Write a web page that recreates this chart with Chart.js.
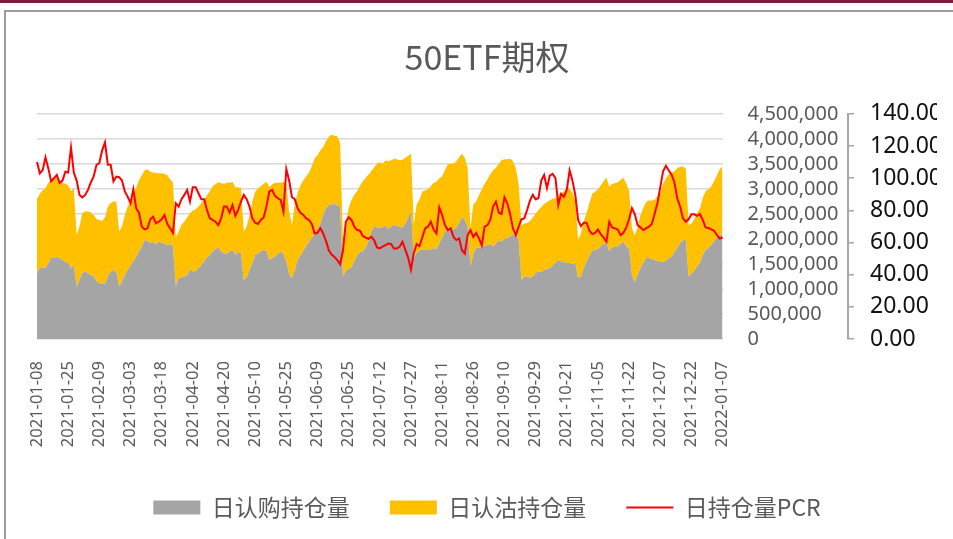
<!DOCTYPE html>
<html>
<head>
<meta charset="utf-8">
<script src="https://cdn.jsdelivr.net/npm/chart.js@4.4.1/dist/chart.umd.min.js"></script>
<style>
  html, body { margin: 0; padding: 0; background: #fff; }
  canvas { display: block; }
</style>
</head>
<body>
<canvas id="pcrChart" width="953" height="539"></canvas>
<script>
// trading days 2021-01-08 .. 2022-01-07 (weekends and exchange holidays skipped)
const firstDay = '2021-01-08';
const lastDay = '2022-01-07';
const holidays = [
    '2021-02-11', '2021-02-12', '2021-02-15', '2021-02-16', '2021-02-17',
    '2021-04-05', '2021-05-03', '2021-05-04', '2021-05-05', '2021-06-14',
    '2021-09-20', '2021-09-21', '2021-10-01', '2021-10-04', '2021-10-05',
    '2021-10-06', '2021-10-07', '2022-01-03'
];

const callOI = [
    1320000, 1420000, 1430000, 1420000, 1520000, 1620000, 1630000, 1640000, 1620000, 1580000,
    1540000, 1520000, 1420000, 1480000, 1050000, 1180000, 1320000, 1350000, 1320000, 1280000,
    1250000, 1160000, 1120000, 1100000, 1100000, 1250000, 1350000, 1380000, 1340000, 1050000,
    1150000, 1280000, 1380000, 1470000, 1550000, 1650000, 1750000, 1850000, 1980000, 1960000,
    1920000, 1940000, 1900000, 1950000, 1920000, 1910000, 1870000, 1900000, 1850000, 1050000,
    1220000, 1230000, 1250000, 1280000, 1400000, 1350000, 1360000, 1420000, 1480000, 1550000,
    1630000, 1680000, 1750000, 1800000, 1830000, 1750000, 1710000, 1710000, 1750000, 1780000,
    1680000, 1740000, 1710000, 1180000, 1230000, 1380000, 1520000, 1680000, 1710000, 1750000,
    1780000, 1760000, 1580000, 1620000, 1650000, 1700000, 1750000, 1700000, 1550000, 1300000,
    1220000, 1380000, 1580000, 1670000, 1760000, 1860000, 1940000, 2020000, 2100000, 2200000,
    2300000, 2480000, 2620000, 2680000, 2690000, 2700000, 2670000, 2650000, 1250000, 1360000,
    1400000, 1430000, 1550000, 1670000, 1740000, 1750000, 1830000, 1960000, 2140000, 2250000,
    2230000, 2220000, 2240000, 2270000, 2200000, 2250000, 2280000, 2270000, 2240000, 2230000,
    2300000, 2430000, 2550000, 1630000, 1720000, 1770000, 1790000, 1790000, 1790000, 1790000,
    1820000, 1790000, 1920000, 2020000, 2150000, 2180000, 2160000, 2200000, 2220000, 2320000,
    2450000, 2370000, 2250000, 1450000, 1700000, 1820000, 1830000, 1840000, 1870000, 1880000,
    1900000, 1850000, 1910000, 1970000, 1950000, 2000000, 2020000, 2050000, 2100000, 2060000,
    2000000, 1180000, 1250000, 1250000, 1220000, 1250000, 1320000, 1350000, 1340000, 1380000,
    1400000, 1420000, 1470000, 1520000, 1570000, 1550000, 1540000, 1520000, 1520000, 1500000,
    1520000, 1220000, 1250000, 1430000, 1550000, 1670000, 1770000, 1780000, 1800000, 1860000,
    1900000, 1920000, 1760000, 1830000, 1850000, 1850000, 1900000, 1950000, 1850000, 1800000,
    1280000, 1140000, 1280000, 1420000, 1520000, 1620000, 1620000, 1600000, 1580000, 1560000,
    1550000, 1550000, 1560000, 1620000, 1650000, 1740000, 1820000, 1920000, 1970000, 1990000,
    1250000, 1300000, 1370000, 1450000, 1520000, 1680000, 1780000, 1820000, 1880000, 1950000,
    2030000, 2080000, 2100000
];

const putOI = [
    1490000, 1480000, 1540000, 1590000, 1600000, 1570000, 1600000, 1610000, 1520000, 1540000,
    1560000, 1550000, 1530000, 1530000, 1030000, 1070000, 1200000, 1200000, 1230000, 1250000,
    1230000, 1240000, 1260000, 1260000, 1330000, 1400000, 1370000, 1370000, 1410000, 1100000,
    1100000, 1200000, 1270000, 1280000, 1340000, 1370000, 1420000, 1420000, 1390000, 1430000,
    1420000, 1380000, 1420000, 1360000, 1390000, 1390000, 1400000, 1290000, 1270000, 980000,
    930000, 1050000, 1100000, 1150000, 1120000, 1220000, 1230000, 1230000, 1240000, 1240000,
    1240000, 1270000, 1300000, 1290000, 1300000, 1360000, 1390000, 1410000, 1370000, 1360000,
    1350000, 1290000, 1300000, 970000, 1020000, 1090000, 1230000, 1260000, 1300000, 1300000,
    1320000, 1380000, 1450000, 1470000, 1470000, 1420000, 1370000, 1440000, 1540000, 1250000,
    1060000, 1310000, 1340000, 1400000, 1410000, 1390000, 1380000, 1430000, 1510000, 1470000,
    1470000, 1350000, 1330000, 1360000, 1390000, 1360000, 1380000, 1270000, 750000, 940000,
    1220000, 1350000, 1330000, 1280000, 1320000, 1400000, 1390000, 1320000, 1210000, 1180000,
    1270000, 1310000, 1260000, 1300000, 1350000, 1320000, 1320000, 1320000, 1330000, 1350000,
    1320000, 1230000, 1150000, 650000, 970000, 1020000, 1150000, 1180000, 1200000, 1260000,
    1300000, 1350000, 1290000, 1230000, 1220000, 1310000, 1340000, 1300000, 1330000, 1310000,
    1250000, 1250000, 1170000, 750000, 990000, 930000, 1040000, 1150000, 1230000, 1310000,
    1390000, 1520000, 1510000, 1530000, 1620000, 1590000, 1570000, 1550000, 1450000, 1360000,
    1090000, 1090000, 1060000, 1070000, 1140000, 1180000, 1190000, 1230000, 1300000, 1320000,
    1340000, 1350000, 1340000, 1290000, 1300000, 1370000, 1400000, 1530000, 1480000, 1420000,
    1230000, 760000, 870000, 930000, 970000, 1050000, 1130000, 1160000, 1190000, 1210000,
    1250000, 1300000, 1280000, 1270000, 1260000, 1280000, 1280000, 1270000, 1250000, 1160000,
    940000, 930000, 950000, 1060000, 1100000, 1120000, 1150000, 1170000, 1200000, 1290000,
    1370000, 1550000, 1650000, 1670000, 1670000, 1610000, 1590000, 1520000, 1470000, 1420000,
    1030000, 1010000, 1030000, 1070000, 1090000, 1140000, 1170000, 1170000, 1170000, 1200000,
    1240000, 1310000, 1350000
];

const pcr = [
    110, 103, 105, 113, 106, 98, 100, 102, 97, 98.5,
    104, 103.5, 119, 103.5, 98.5, 89.6, 88, 89.6, 92.7, 97.3,
    101, 108.3, 109.4, 117.3, 122.3, 108.3, 108.3, 98, 101, 100.6,
    98.5, 91.7, 88.5, 84.4, 93.1, 81.3, 78.5, 69.8, 68.1, 68.8,
    74.4, 76, 71.9, 72.9, 74.4, 77.1, 71.5, 68.8, 66, 84.4,
    82.3, 86.9, 89.6, 92.7, 85.4, 94.4, 94.4, 90.6, 86.9, 86.9,
    80.2, 75, 74, 72.9, 70.8, 75, 82.3, 82.3, 78.5, 83.3,
    76.5, 80.2, 85.4, 89.6, 86.9, 82.3, 75, 72.3, 71.5, 74,
    75.6, 82.3, 91.7, 92.7, 89, 87.5, 86.5, 79.2, 105.6, 98.5,
    88.1, 86.9, 81.3, 78.5, 77.1, 75, 74, 71.5, 65.6, 66,
    68.8, 65.6, 61, 55.2, 52.5, 51, 49, 46.5, 55, 72.9,
    75.6, 74, 69.8, 67.7, 67.3, 64, 63.1, 62.3, 63.5, 61.5,
    56.9, 56.3, 57.5, 58.3, 59.4, 59, 56.3, 56.3, 57.3, 60.4,
    55.6, 50.6, 43.1, 53.5, 59, 57.7, 63.1, 68.8, 69.8, 72.9,
    68.1, 65.6, 81.9, 77.1, 70.8, 67.7, 68.8, 63.5, 61.5, 62.5,
    55.2, 53.1, 64.6, 67.7, 63.5, 66, 62.5, 58.3, 69.8, 70.8,
    74, 82.3, 85.4, 78.5, 77.7, 88.1, 84.4, 77.7, 68.8, 64.6,
    69.8, 74.4, 75, 80.2, 86, 89.6, 86.9, 87.5, 98.5, 102,
    93.8, 101.5, 102.7, 100, 83.3, 90.2, 88.5, 92.7, 104.8, 98.5,
    89.6, 74, 70.2, 72.3, 72.3, 67.3, 65.2, 66, 68.1, 65.2,
    63.1, 60.4, 72.9, 69.4, 68.8, 68.1, 64.6, 66, 69.4, 74.6,
    81.3, 77.7, 70.8, 69.4, 67.7, 68.8, 69.8, 71.5, 77.7, 84.4,
    94.4, 104.2, 107.7, 104.8, 102.1, 97.3, 87.5, 82.3, 75, 72.9,
    74.4, 77.5, 77.5, 76.5, 77.7, 74, 69.4, 69, 68.1, 67.3,
    64.6, 62.5, 63.1
];

const seriesNames = ['日认购持仓量', '日认沽持仓量', '日持仓量PCR'];
const titleText = '50ETF期权';
const labelEvery = 11; // one date label every 11 trading days

const dates = [];
for (let d = new Date(firstDay + 'T00:00:00Z'); d <= new Date(lastDay + 'T00:00:00Z'); d.setUTCDate(d.getUTCDate() + 1)) {
    const s = d.toISOString().slice(0, 10);
    const wd = d.getUTCDay();
    if (wd !== 0 && wd !== 6 && !holidays.includes(s)) dates.push(s);
}

const textColor = '#595959';
const cjkFont = "'Noto Sans CJK SC', 'Noto Sans', sans-serif";

// white page, maroon strip at the top and the grey frame
const framePlugin = {
    id: 'frame',
    beforeDraw(chart) {
        const c = chart.ctx;
        c.save();
        c.fillStyle = '#ffffff';
        c.fillRect(0, 0, chart.width, chart.height);
        c.fillStyle = '#7a1f3d';
        c.fillRect(0, 0, chart.width, 3);
        c.strokeStyle = '#9b9b9b';
        c.lineWidth = 2;
        c.beginPath();
        c.moveTo(5, chart.height);
        c.lineTo(5, 11);
        c.lineTo(chart.width, 11);
        c.stroke();
        c.restore();
    }
};

Chart.defaults.font.family = "'Noto Sans', sans-serif";

const ctx = document.getElementById('pcrChart');
new Chart(ctx, {
    type: 'line',
    data: {
        labels: dates,
        datasets: [
            {
                // first in the list so the line is painted over the areas
                label: seriesNames[2],
                data: pcr,
                yAxisID: 'y1',
                borderColor: '#ff0000',
                backgroundColor: '#ff0000',
                borderWidth: 2,
                pointRadius: 0,
                tension: 0,
                fill: false
            },
            {
                label: seriesNames[0],
                data: callOI,
                yAxisID: 'y',
                borderWidth: 0,
                borderColor: '#a5a5a5',
                backgroundColor: '#a5a5a5',
                pointRadius: 0,
                tension: 0,
                fill: 'origin'
            },
            {
                label: seriesNames[1],
                data: putOI,
                yAxisID: 'y',
                borderWidth: 0,
                borderColor: '#ffc000',
                backgroundColor: '#ffc000',
                pointRadius: 0,
                tension: 0,
                fill: '-1'
            }
        ]
    },
    options: {
        responsive: false,
        animation: false,
        devicePixelRatio: 1,
        layout: {
            padding: {left: 37, right: 16, top: 12, bottom: 10}
        },
        plugins: {
            tooltip: {enabled: false},
            title: {
                display: true,
                text: titleText,
                color: textColor,
                font: {family: cjkFont, size: 34, weight: 'normal'},
                padding: {top: 25, bottom: 36}
            },
            legend: {
                position: 'bottom',
                labels: {
                    color: textColor,
                    font: {family: cjkFont, size: 23},
                    usePointStyle: true,
                    pointStyleWidth: 47,
                    boxHeight: 14,
                    padding: 40,
                    generateLabels(chart) {
                        const items = Chart.defaults.plugins.legend.labels.generateLabels(chart);
                        items.forEach(item => {
                            const ds = chart.data.datasets[item.datasetIndex];
                            if (ds.yAxisID === 'y1') {
                                item.pointStyle = 'line';
                                item.strokeStyle = ds.borderColor;
                                item.lineWidth = 2;
                            } else {
                                item.pointStyle = 'rect';
                                item.fillStyle = ds.backgroundColor;
                                item.lineWidth = 0;
                            }
                        });
                        return items;
                    },
                    // call, put, then the PCR line
                    sort: (a, b) => ((a.datasetIndex || 3) - (b.datasetIndex || 3))
                }
            }
        },
        scales: {
            x: {
                grid: {display: false},
                border: {display: false},
                ticks: {
                    autoSkip: false,
                    minRotation: 90,
                    maxRotation: 90,
                    padding: 14,
                    color: textColor,
                    font: {size: 16.5},
                    callback: function (value, index) {
                        return index % labelEvery === 0 ? this.getLabelForValue(value) : null;
                    }
                },
                afterFit: scale => { scale.height = 117; }
            },
            y: {
                position: 'right',
                weight: 0,
                stacked: true,
                min: 0,
                max: 4500000,
                border: {display: false},
                grid: {color: '#d9d9d9', lineWidth: 1.5, drawTicks: false},
                ticks: {
                    autoSkip: false,
                    stepSize: 500000,
                    padding: 25,
                    color: textColor,
                    font: {size: 20},
                    callback: v => v.toLocaleString('en-US')
                },
                afterFit: scale => { scale.width = 125.4; }
            },
            y1: {
                position: 'right',
                weight: 1,
                min: 0,
                max: 140,
                border: {display: true, color: '#a6a6a6', width: 2},
                grid: {drawOnChartArea: false, color: '#a6a6a6', tickLength: 6, lineWidth: 1.5},
                ticks: {
                    autoSkip: false,
                    stepSize: 20,
                    padding: 16,
                    color: '#111111',
                    font: {size: 23},
                    callback: v => v.toFixed(2)
                },
                afterFit: scale => { scale.width = 89; }
            }
        }
    },
    plugins: [framePlugin]
});
</script>
</body>
</html>
